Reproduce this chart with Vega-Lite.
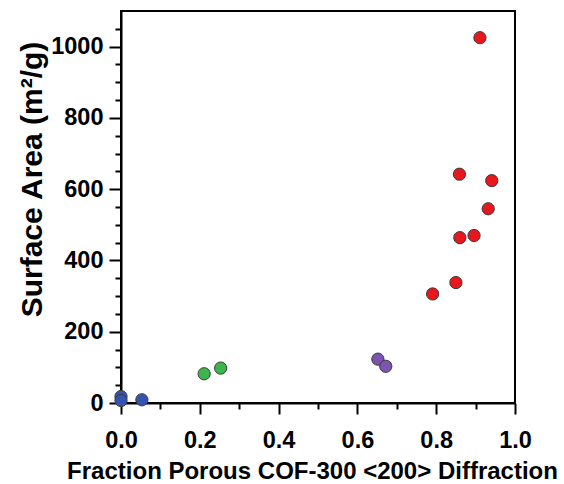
{
  "$schema": "https://vega.github.io/schema/vega-lite/v6.json",
  "width": 394,
  "height": 392,
  "autosize": {"type": "none"},
  "padding": {"left": 121, "top": 11, "right": 49, "bottom": 81},
  "background": "white",
  "config": {
    "view": {"stroke": "black", "strokeWidth": 2},
    "axis": {
      "grid": false,
      "domainColor": "black",
      "domainWidth": 2,
      "tickColor": "black",
      "tickWidth": 2,
      "labelFont": "Liberation Sans",
      "labelFontWeight": "bold",
      "labelFontSize": 23.5,
      "labelColor": "black",
      "titleFont": "Liberation Sans",
      "titleFontWeight": "bold",
      "titleColor": "black"
    }
  },
  "data": {
    "values": [
      {"frac": 0.0, "area": 18, "group": "a"},
      {"frac": 0.0, "area": 7, "group": "a"},
      {"frac": 0.053, "area": 9, "group": "a"},
      {"frac": 0.211, "area": 82, "group": "b"},
      {"frac": 0.253, "area": 98, "group": "b"},
      {"frac": 0.652, "area": 123, "group": "c"},
      {"frac": 0.672, "area": 103, "group": "c"},
      {"frac": 0.791, "area": 306, "group": "d"},
      {"frac": 0.85, "area": 338, "group": "d"},
      {"frac": 0.86, "area": 464, "group": "d"},
      {"frac": 0.896, "area": 470, "group": "d"},
      {"frac": 0.932, "area": 545, "group": "d"},
      {"frac": 0.941, "area": 624, "group": "d"},
      {"frac": 0.859, "area": 642, "group": "d"},
      {"frac": 0.911, "area": 1025, "group": "d"}
    ]
  },
  "mark": {"type": "point", "shape": "circle", "filled": true, "size": 150, "stroke": "#3a3a3a", "strokeWidth": 1, "opacity": 1},
  "encoding": {
    "x": {
      "field": "frac",
      "type": "quantitative",
      "scale": {"domain": [0, 1], "nice": false, "zero": false},
      "axis": {
        "title": "Fraction Porous COF-300 <200> Diffraction",
        "titleFontSize": 24,
        "titlePadding": 8,
        "titleX": 191,
        "values": [0, 0.1, 0.2, 0.3, 0.4, 0.5, 0.6, 0.7, 0.8, 0.9, 1.0],
        "labelExpr": "round(datum.value * 10) % 2 === 0 ? format(datum.value, '.1f') : ''",
        "tickSize": {"condition": {"test": "round(datum.value * 10) % 2 === 0", "value": 11}, "value": 6},
        "labelPadding": 14,
        "labelFlush": false,
        "labelOverlap": false
      }
    },
    "y": {
      "field": "area",
      "type": "quantitative",
      "scale": {"domain": [0, 1100], "nice": false},
      "axis": {
        "title": "Surface Area (m²/g)",
        "titleFontSize": 30,
        "titleAngle": -90,
        "titleX": -89,
        "titleY": 168,
        "titleAlign": "center",
        "titleBaseline": "middle",
        "values": [0, 50, 100, 150, 200, 250, 300, 350, 400, 450, 500, 550, 600, 650, 700, 750, 800, 850, 900, 950, 1000, 1050],
        "labelExpr": "datum.value % 200 === 0 ? format(datum.value, 'd') : ''",
        "tickSize": {"condition": {"test": "datum.value % 200 === 0", "value": 12}, "value": 6},
        "labelPadding": 6,
        "labelFlush": false,
        "labelOverlap": false
      }
    },
    "color": {
      "field": "group",
      "type": "nominal",
      "scale": {"domain": ["a", "b", "c", "d"], "range": ["#3553b0", "#3cb54a", "#7b55b0", "#e8171e"]},
      "legend": null
    }
  }
}
